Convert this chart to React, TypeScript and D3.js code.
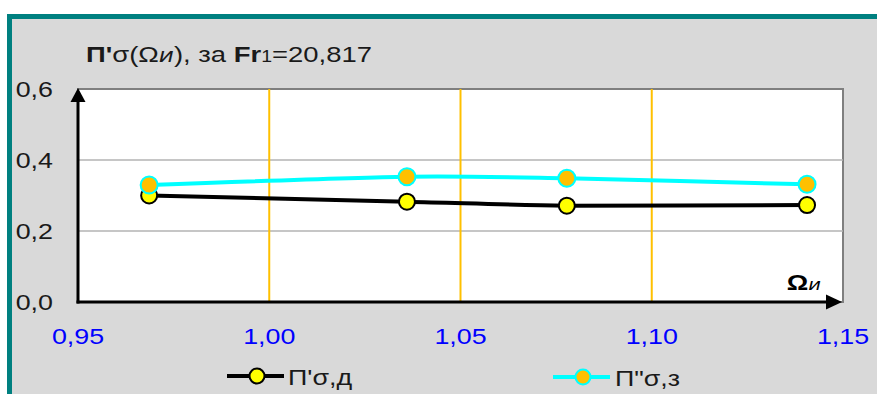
import React from "react";
import * as d3 from "d3";

const xTicks = [0.95, 1.0, 1.05, 1.1, 1.15];
const yTicks = [0, 0.2, 0.4, 0.6];
const xValues = [0.9686, 1.036, 1.0778, 1.1406];
const seriesD = [0.3, 0.2826, 0.2713, 0.2732];
const seriesZ = [0.3296, 0.353, 0.3485, 0.3315];
const legendD = "П'σ,д";
const legendZ = 'П"σ,з';

const W = 877;
const H = 394;
const plot = { left: 78, right: 843, top: 89, bottom: 302 };
const SX = 1.22;
const FONT = "'Liberation Sans', Arial, sans-serif";
const OBL = "'DejaVu Sans', sans-serif";

const fmtX = (v: number) => v.toFixed(2).replace(".", ",");
const fmtY = (v: number) => v.toFixed(1).replace(".", ",");

function SText({ x, y, anchor = "start", children, ...rest }: any) {
  return (
    <g transform={`translate(${x},${y}) scale(${SX},1)`}>
      <text x={0} y={0} textAnchor={anchor} fontFamily={FONT} {...rest}>
        {children}
      </text>
    </g>
  );
}

export default function App() {
  const x = d3.scaleLinear().domain([0.95, 1.15]).range([plot.left, plot.right]);
  const y = d3.scaleLinear().domain([0, 0.6]).range([plot.bottom, plot.top]);
  const line = d3
    .line<number>()
    .x((_, i) => x(xValues[i]))
    .y((d) => y(d))
    .curve(d3.curveCardinal.tension(0.2));

  return (
    <svg
      width={W}
      height={H}
      style={{ position: "absolute", left: 0, top: 0, background: "#fff" }}
    >
      <rect x={9.5} y={16.5} width={1000} height={600} fill="#D9D9D9" stroke="#008080" strokeWidth={5} />
      <rect
        x={plot.left}
        y={plot.top}
        width={plot.right - plot.left}
        height={plot.bottom - plot.top}
        fill="#fff"
        stroke="#7f7f7f"
        strokeWidth={2}
      />
      {yTicks
        .filter((t) => t > 0 && t < 0.6)
        .map((t) => (
          <line key={t} x1={plot.left} x2={plot.right} y1={y(t)} y2={y(t)} stroke="#B3B3B3" strokeWidth={1.5} />
        ))}
      {xTicks
        .filter((t) => t > 0.95 && t < 1.15)
        .map((t) => (
          <line key={t} x1={x(t)} x2={x(t)} y1={plot.top} y2={plot.bottom} stroke="#FFC000" strokeWidth={2} />
        ))}
      {/* axes */}
      <line x1={plot.left} x2={plot.left} y1={plot.bottom + 1.5} y2={plot.top + 10} stroke="#000" strokeWidth={3} />
      <path d={`M${plot.left - 7.5},${plot.top + 13} L${plot.left},${plot.top - 1} L${plot.left + 7.5},${plot.top + 13} Z`} fill="#000" />
      <line x1={plot.left - 1.5} x2={plot.right - 12} y1={plot.bottom} y2={plot.bottom} stroke="#000" strokeWidth={3} />
      <path d={`M${plot.right - 17},${plot.bottom - 7.5} L${plot.right - 1},${plot.bottom} L${plot.right - 17},${plot.bottom + 7.5} Z`} fill="#000" />

      {/* series */}
      <path d={line(seriesD) || ""} fill="none" stroke="#000" strokeWidth={4} />
      {seriesD.map((v, i) => (
        <circle key={i} cx={x(xValues[i])} cy={y(v)} r={8} fill="#FFFF00" stroke="#000" strokeWidth={2} />
      ))}
      <path d={line(seriesZ) || ""} fill="none" stroke="#00FFFF" strokeWidth={4} />
      {seriesZ.map((v, i) => (
        <circle key={i} cx={x(xValues[i])} cy={y(v)} r={8.5} fill="#FFC000" stroke="#00FFFF" strokeWidth={2} />
      ))}

      {/* y tick labels */}
      {yTicks.map((t) => (
        <SText key={t} x={53} y={y(t) + 8} anchor="end" fontSize={22} fill="#1a1a1a">
          {fmtY(t)}
        </SText>
      ))}
      {/* x tick labels */}
      {xTicks.map((t) => (
        <SText key={t} x={x(t)} y={344} anchor="middle" fontSize={22} fill="#0000FF">
          {fmtX(t)}
        </SText>
      ))}

      {/* title */}
      <SText x={86} y={62} fontSize={22.5} fill="#1a1a1a">
        <tspan fontWeight="bold">П'</tspan>
        <tspan>σ(Ω</tspan>
        <tspan fontFamily={OBL} fontStyle="oblique" fontSize={19}>и</tspan>
        <tspan>), за </tspan>
        <tspan fontWeight="bold">Fr</tspan>
        <tspan fontSize={16}>1</tspan>
        <tspan>=20,817</tspan>
      </SText>

      {/* axis label */}
      <SText x={821} y={290} anchor="end" fontSize={22} fill="#000">
        <tspan fontWeight="bold">Ω</tspan>
        <tspan fontFamily={OBL} fontStyle="oblique" fontSize={16}>и</tspan>
      </SText>

      {/* legend */}
      <line x1={227} x2={284} y1={376} y2={376} stroke="#000" strokeWidth={4} />
      <circle cx={257} cy={376} r={7.5} fill="#FFFF00" stroke="#000" strokeWidth={2} />
      <SText x={288} y={385} fontSize={22} fill="#1a1a1a">
        {legendD}
      </SText>
      <line x1={553} x2={610} y1={377} y2={377} stroke="#00FFFF" strokeWidth={4} />
      <circle cx={583} cy={377} r={7.5} fill="#FFC000" stroke="#00FFFF" strokeWidth={2} />
      <SText x={615} y={386} fontSize={22} fill="#1a1a1a">
        {legendZ}
      </SText>
    </svg>
  );
}
